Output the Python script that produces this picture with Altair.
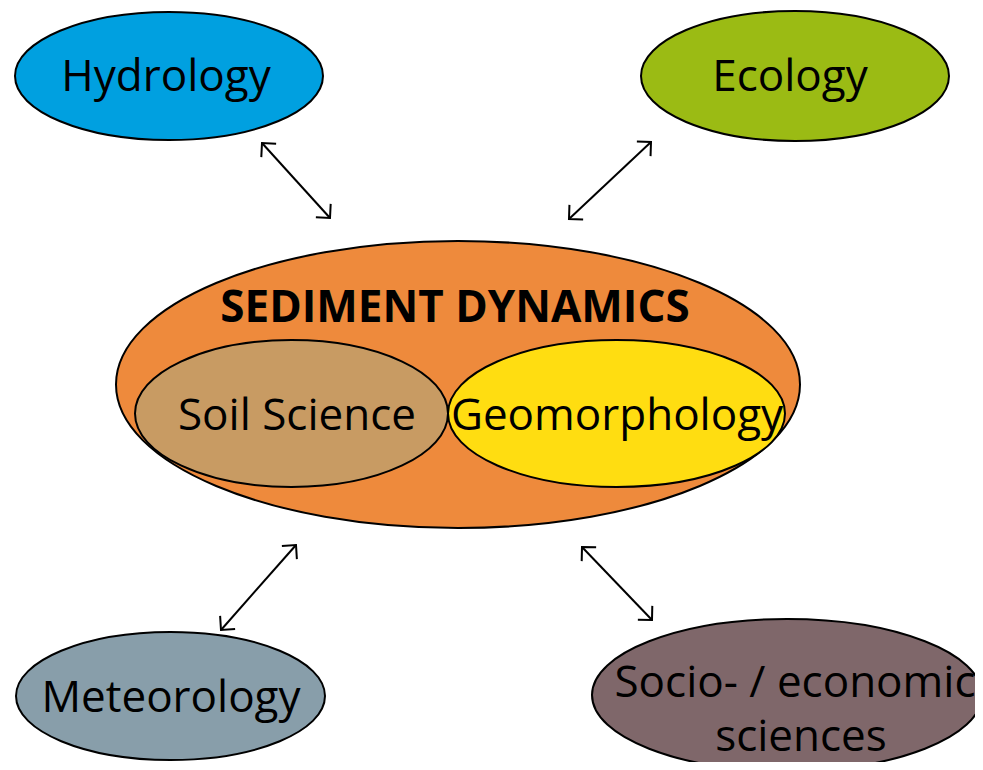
import math
import altair as alt
import pandas as pd

# ---------------- data ----------------
ell_names = ["Sediment dynamics", "Soil science", "Geomorphology", "Hydrology",
             "Ecology", "Meteorology", "Socio-economic"]
ell_cx = [458, 291.5, 616.5, 169, 795, 170.5, 787]
ell_cy = [384.5, 413.5, 413.5, 76, 76, 696, 695]
ell_rx = [342, 156.5, 168.5, 154, 154, 154.5, 195]
ell_ry = [143.5, 73.5, 73.5, 64, 65, 64, 76]
ell_fill = ["#EE8A3C", "#C89B63", "#FFDD11", "#00A0E0", "#9BBB14", "#889EAA", "#7F676A"]

labels = ["Hydrology", "Ecology", "Soil Science", "Geomorphology", "Meteorology",
          "Socio- / economic", "sciences"]
label_x = [166, 790, 297, 617, 171, 795, 801]
label_y = [91, 91, 430, 430, 712, 697, 751]

title_label = ["SEDIMENT DYNAMICS"]
title_x = [455]
title_y = [322]

arrow_x1 = [262, 651, 296, 582]
arrow_y1 = [143, 142, 545, 547]
arrow_x2 = [330, 569, 221, 652]
arrow_y2 = [218, 219, 630, 620]

# ---------------- tables ----------------
W, H = 967, 754
xs = alt.Scale(domain=[8, 8 + W], nice=False, zero=False)
ys = alt.Scale(domain=[8, 8 + H], nice=False, zero=False, reverse=True)


def ell_path(k):
    return f"M -1 0 A 1 {k:.4f} 0 1 0 1 0 A 1 {k:.4f} 0 1 0 -1 0 Z"


ell_df = pd.DataFrame({
    "name": ell_names, "x": ell_cx, "y": ell_cy, "fill": ell_fill,
    "path": [ell_path(b / a) for a, b in zip(ell_rx, ell_ry)],
    "size": [(2 * a) ** 2 for a in ell_rx],
})

lab_df = pd.DataFrame({"label": labels, "x": label_x, "y": label_y})
tit_df = pd.DataFrame({"label": title_label, "x": title_x, "y": title_y})

arr_df = pd.DataFrame({"x": arrow_x1, "y": arrow_y1, "x2": arrow_x2, "y2": arrow_y2})

heads = []
for a, b, c, d in zip(arrow_x1, arrow_y1, arrow_x2, arrow_y2):
    ang_end = math.degrees(math.atan2(d - b, c - a)) % 360
    ang_start = math.degrees(math.atan2(b - d, a - c)) % 360
    heads.append({"x": c, "y": d, "angle": ang_end})
    heads.append({"x": a, "y": b, "angle": ang_start})
head_df = pd.DataFrame(heads)

# ---------------- layers ----------------
ellipses = alt.Chart(ell_df).mark_point(
    filled=True, stroke="black", strokeWidth=2, opacity=1
).encode(
    x=alt.X("x:Q", scale=xs, axis=None),
    y=alt.Y("y:Q", scale=ys, axis=None),
    shape=alt.Shape("path:N", scale=None),
    size=alt.Size("size:Q", scale=None),
    fill=alt.Fill("fill:N", scale=None),
)

shafts = alt.Chart(arr_df).mark_rule(color="black", strokeWidth=2).encode(
    x=alt.X("x:Q", scale=xs, axis=None),
    y=alt.Y("y:Q", scale=ys, axis=None),
    x2="x2:Q",
    y2="y2:Q",
)

arrowheads = alt.Chart(head_df).mark_point(
    shape="M -1 -1 L 0 0 L -1 1", filled=False, color="black",
    strokeWidth=2, opacity=1, size=400
).encode(
    x=alt.X("x:Q", scale=xs, axis=None),
    y=alt.Y("y:Q", scale=ys, axis=None),
    angle=alt.Angle("angle:Q", scale=None),
)

texts = alt.Chart(lab_df).mark_text(
    font="Open Sans", fontSize=44, color="black", align="center",
    baseline="alphabetic"
).encode(
    x=alt.X("x:Q", scale=xs, axis=None),
    y=alt.Y("y:Q", scale=ys, axis=None),
    text="label:N",
)

title_text = alt.Chart(tit_df).mark_text(
    font="Open Sans", fontSize=44, fontWeight="bold", color="black",
    align="center", baseline="alphabetic"
).encode(
    x=alt.X("x:Q", scale=xs, axis=None),
    y=alt.Y("y:Q", scale=ys, axis=None),
    text="label:N",
)

chart = alt.layer(ellipses, shafts, arrowheads, texts, title_text).properties(
    width=W, height=H, autosize=alt.AutoSizeParams(type="none"), padding=0,
    background="white",
).configure_view(stroke=None)

chart.save("out.html", embed_options={"renderer": "svg", "actions": False})
